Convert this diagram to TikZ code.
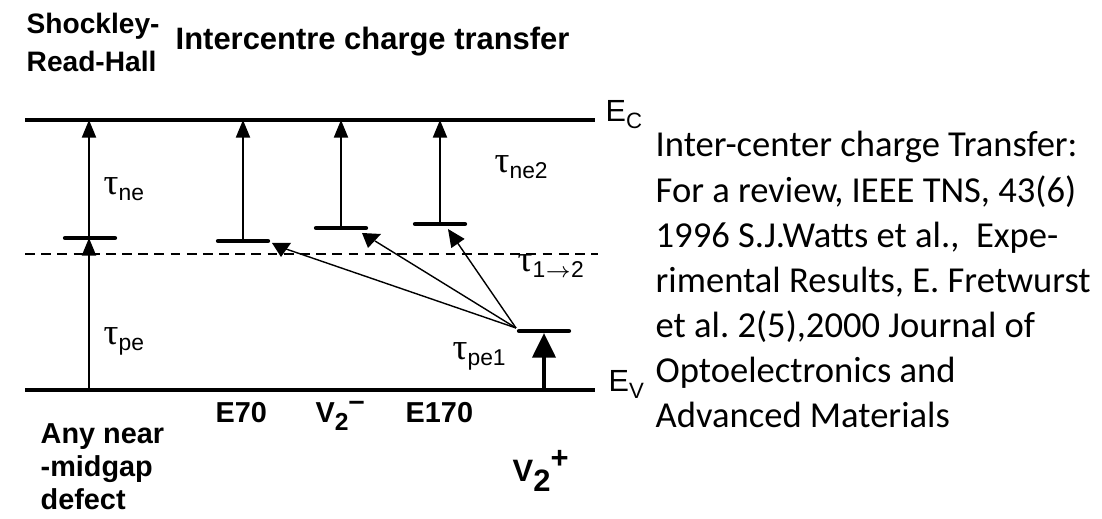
\documentclass[tikz,border=0pt]{standalone}
\usepackage{fontspec}
\setmainfont{Carlito}
\setsansfont{Liberation Sans}
\newfontfamily\greekfont{Liberation Serif}
\usetikzlibrary{arrows.meta}
\frenchspacing

\newcommand{\taulab}[1]{{\greekfont τ}\raisebox{-1.5pt}{\fontsize{6.5}{7}\selectfont\sffamily #1}}

\begin{document}
\begin{tikzpicture}[x=0.01cm, y=-0.01cm,
  band/.style={line width=1.3pt},
  level/.style={line width=1.2pt, line cap=round},
  excite/.style={line width=0.5pt, -{Triangle[width=4pt,length=5pt]}},
  transfer/.style={line width=0.4pt},
  lab/.style={font=\fontsize{8.2}{9.4}\selectfont\sffamily\bfseries, inner sep=0pt, anchor=base west, align=left},
  tau/.style={font=\fontsize{10.5}{12}\selectfont, inner sep=0pt, anchor=base west}]
  \useasboundingbox (0,0) rectangle (1102,519);

  % Bands
  \coordinate (ec) at (25,120); \coordinate (ecr) at (595,120);
  \coordinate (ev) at (25,390); \coordinate (evr) at (595,390);
  \draw[band] (ec) -- (ecr);
  \draw[band] (ev) -- (evr);
  \draw[line width=0.5pt, dash pattern=on 2.8pt off 1.8pt] (25,254) -- (598,254);
  \node[inner sep=0pt, anchor=base west, font=\fontsize{8.7}{10}\selectfont\sffamily] (eclab) at (605,122)
    {E\raisebox{-1.8pt}{\fontsize{6.3}{7}\selectfont C}};
  \node[inner sep=0pt, anchor=base west, font=\fontsize{8.7}{10}\selectfont\sffamily] (evlab) at (608,392)
    {E\raisebox{-1.8pt}{\fontsize{6.3}{7}\selectfont V}};

  % Shockley-Read-Hall level
  \coordinate (srh) at (89,238);
  \draw[level] (65,238) -- (115,238);
  \draw[excite] (89,390) -- (srh);
  \draw[excite] (srh) -- (srh |- ec);

  % Intercentre levels
  \foreach \n/\x/\y in {e70/243/241, vm/341/228, e170/440/224}{
    \coordinate (\n) at (\x,\y);
    \draw[level] (\x-25,\y) -- (\x+25,\y);
    \draw[excite] (\n) -- (\n |- ec);
  }
  \coordinate (vp) at (544,331);
  \draw[level] (519,331) -- (569,331);
  \draw[line width=1.2pt, -{Triangle[width=6.5pt,length=7pt]}] (vp |- ev) -- (544,333);

  % Charge transfer
  \coordinate (src) at (516,328);
  \coordinate (t70) at (286,249);
  \coordinate (tvm) at (375,241);
  \draw[transfer] (src) -- (t70);
  \fill (272,243) -- (291,243) -- (281,257) -- cycle;
  \draw[transfer] (src) -- (tvm);
  \fill (362,233) -- (381,234) -- (368,248) -- cycle;
  \draw[transfer, -{Triangle[width=4.5pt,length=5pt]}] (src) -- (448,229);

  % Time constants
  \node[tau] (tne) at (103,195) {\taulab{ne}};
  \node[tau] (tpe) at (103,345) {\taulab{pe}};
  \node[tau] (tne2) at (494,173) {\taulab{ne2}};
  \node[tau] (t12) at (517,272) {\taulab{1$\rightarrow$2}};
  \node[tau] (tpe1) at (452,360) {\taulab{pe1}};

  % Labels
  \node[lab, font=\fontsize{8}{11}\selectfont\sffamily\bfseries] (srhlab) at (26,72) {Shockley-\\Read-Hall};
  \node[lab, font=\fontsize{8.8}{10}\selectfont\sffamily\bfseries] (ictlab) at (175,50) {Intercentre charge transfer};
  \node[lab] (e70lab) at (215,423) {E70};
  \node[lab] (vmlab) at (315,423)
    {V\raisebox{-2pt}{\fontsize{7}{8}\selectfont 2}\raisebox{3.6pt}{--}};
  \node[lab] (e170lab) at (405,423) {E170};
  \node[lab] (midlab) at (40,510) {Any near\\-midgap\\defect};
  \node[lab, font=\fontsize{8.8}{10}\selectfont\sffamily\bfseries] (vplab) at (512,482)
    {V\raisebox{-2.8pt}{2}\raisebox{3.8pt}{+}};

  % Reference
  \node[inner sep=0pt, anchor=base west, align=left, font=\fontsize{10.4}{12.85}\selectfont] (ref) at (655,428)
    {Inter-center charge Transfer:\\
     For a review, IEEE TNS, 43(6)\\
     1996 S.J.Watts et al.,\ \ Expe-\\
     rimental Results, E. Fretwurst\\
     et al. 2(5),2000 Journal of\\
     Optoelectronics and\\
     Advanced Materials};
\end{tikzpicture}
\end{document}
